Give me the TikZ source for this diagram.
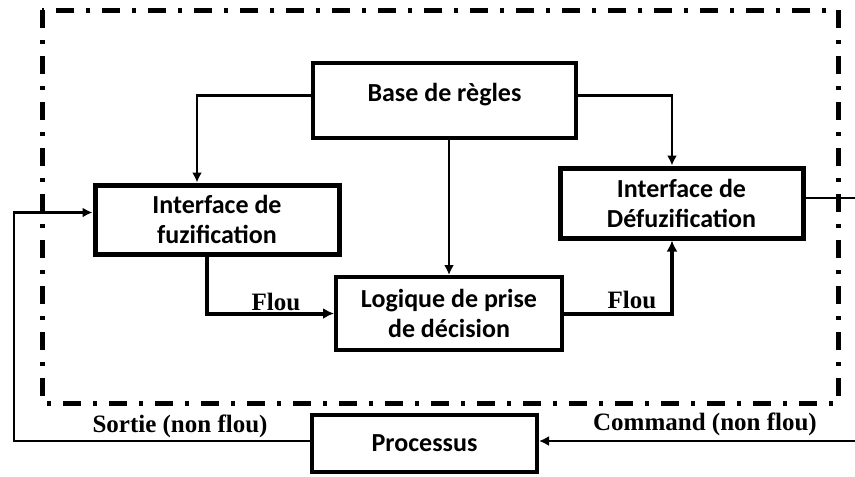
\documentclass[tikz,border=0pt]{standalone}
\usepackage{fontspec}
\setmainfont{Liberation Serif}
\newfontfamily\boxfont{Carlito}
\usetikzlibrary{arrows.meta}
\usetikzlibrary{calc}

\tikzset{
  block/.style={draw, line width=4pt, fill=white, align=center,
    font=\boxfont\bfseries\fontsize{26}{30}\selectfont},
  conn/.style={line width=2.5pt, -{Latex[length=10pt,width=10pt]}},
  flux/.style={line width=4pt, -{Latex[length=11pt,width=11pt]}},
  tag/.style={font=\bfseries\fontsize{25}{28}\selectfont},
  frame/.style={line width=5pt, dash pattern=on 18pt off 12pt on 4pt off 12pt}
}

\begin{document}
\begin{tikzpicture}[x=1pt,y=-1pt]

      \useasboundingbox (0,0) rectangle (855,477);

      % Dash-dot frame
      \draw[frame] (42,10) rectangle (838,403);

      % Blocks
      \node[block, minimum width=263pt, minimum height=75pt, text depth=16pt] (base) at (444.5,100.5) {Base de règles};
      \node[block, line width=5pt, minimum width=244pt, minimum height=69pt] (fuz) at (217,219.5) {Interface de\\fuzification};
      \node[block, line width=5pt, minimum width=243pt, minimum height=70pt] (defuz) at (681.5,203) {Interface de\\Défuzification};
      \node[block, minimum width=226pt, minimum height=73pt] (logic) at (449,313.5) {Logique de prise\\de décision};
      \node[block, minimum width=225pt, minimum height=57pt] (proc) at (424.5,443.5) {Processus};

      % Anchors for the connectors
      \coordinate (basel) at ($(base.west)+(0,-5)$);
      \coordinate (baser) at ($(base.east)+(0,-5)$);
      \coordinate (fuzin) at ($(fuz.north)+(-20,0)$);
      \coordinate (fuzleft) at ($(fuz.west)+(0,-7)$);
      \coordinate (fuzout) at ($(fuz.south)+(-10,0)$);
      \coordinate (defuzin) at ($(defuz.north)+(-9.5,0)$);
      \coordinate (defuzout) at ($(defuz.south)+(-9.5,0)$);
      \coordinate (sortie) at (14,441);
      \coordinate (cmd) at (855,441);
      \coordinate (outR) at (855,198);

      % Connectors
      \draw[conn] (basel) -| (fuzin);
      \draw[conn] (baser) -| (defuzin);
      \draw[conn] (logic.north |- base.south) -- (logic.north);
      \draw[flux] (fuzout) |- (logic.west);
      \draw[flux] (logic.east) -| (defuzout);
      \draw[line width=2.5pt] (defuz.east |- outR) -- (outR);
      \draw[conn] (cmd) -- (cmd -| proc.east);
      \draw[conn] (sortie -| proc.west) -- (sortie) |- (fuzleft);

      % Labels
      \node[tag] (flou1) at (276,302) {Flou};
      \node[tag] (flou2) at (632,300) {Flou};
      \node[tag] (sortlab) at (180,426) {Sortie (non flou)};
      \node[tag] (cmdlab) at (705,424) {Command (non flou)};

\end{tikzpicture}
\end{document}
